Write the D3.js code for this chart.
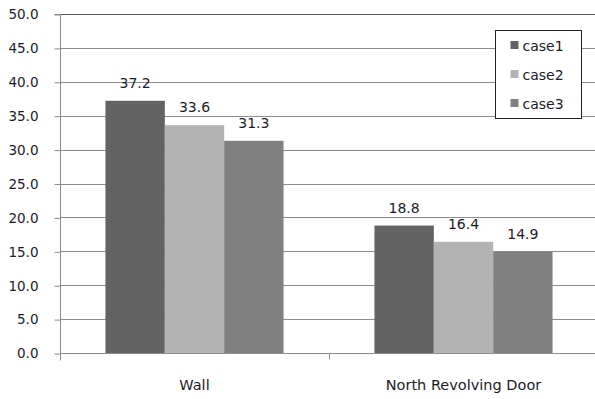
<!DOCTYPE html>
<html>
<head>
<meta charset="utf-8">
<script src="https://cdn.jsdelivr.net/npm/d3@7"></script>
<style>
  html, body { margin: 0; padding: 0; background: #fff; }
  svg { display: block; }
  text { font-family: "DejaVu Sans", Verdana, sans-serif; fill: #1c1c28; }
</style>
</head>
<body>
<script>
// Chart data
const categories = ["Wall", "North Revolving Door"];
const seriesNames = ["case1", "case2", "case3"];
const case1 = [37.2, 18.8];
const case2 = [33.6, 16.4];
const case3 = [31.3, 14.9];
const yTicks = [0, 5, 10, 15, 20, 25, 30, 35, 40, 45, 50];
const seriesColors = ["#636363", "#b3b3b3", "#808080"];

const seriesValues = [case1, case2, case3];

const W = 595, H = 399;
const margin = { left: 60, right: -3, top: 14, bottom: 46 };

const svg = d3.select("body").append("svg")
  .attr("width", W).attr("height", H);

const x0 = d3.scaleBand()
  .domain(categories)
  .range([margin.left, W - margin.right])
  .paddingInner(0.338)
  .paddingOuter(0.169);

const x1 = d3.scaleBand()
  .domain(seriesNames)
  .range([0, x0.bandwidth()]);

const y = d3.scaleLinear()
  .domain([0, 50])
  .range([H - margin.bottom, margin.top]);

// Horizontal gridlines
svg.append("g")
  .selectAll("line")
  .data(yTicks.filter(t => t > 0))
  .join("line")
  .attr("x1", margin.left)
  .attr("x2", W)
  .attr("y1", d => Math.round(y(d)) + 0.5)
  .attr("y2", d => Math.round(y(d)) + 0.5)
  .attr("stroke", d => d === 50 ? "#555" : "#8c8c8c")
  .attr("stroke-width", 1);

// Y axis
const yAxis = d3.axisLeft(y)
  .tickValues(yTicks)
  .tickFormat(d3.format(".1f"))
  .tickSize(6)
  .tickPadding(16);

const gy = svg.append("g")
  .attr("transform", `translate(${margin.left + 0.5},0.5)`)
  .call(yAxis);
gy.select(".domain").attr("stroke", "#8c8c8c").attr("d", `M-6,${y(50)}H0V${y(0) + 7}`);
gy.selectAll(".tick line").attr("stroke", "#8c8c8c");
gy.selectAll(".tick text")
  .attr("font-size", 13.5)
  .attr("fill", "#1c1c28")
  .style("font-family", "'DejaVu Sans', Verdana, sans-serif");

// Bars
const groups = svg.append("g")
  .selectAll("g")
  .data(categories)
  .join("g")
  .attr("transform", d => `translate(${x0(d)},0)`);

groups.selectAll("rect")
  .data((c, ci) => seriesNames.map((s, si) => ({ s, v: seriesValues[si][ci], si })))
  .join("rect")
  .attr("x", d => x1(d.s))
  .attr("width", x1.bandwidth())
  .attr("y", d => y(d.v))
  .attr("height", d => y(0) - y(d.v))
  .attr("fill", d => seriesColors[d.si]);

// Value labels
groups.selectAll("text.val")
  .data((c, ci) => seriesNames.map((s, si) => ({ s, v: seriesValues[si][ci] })))
  .join("text")
  .attr("class", "val")
  .attr("x", d => x1(d.s) + x1.bandwidth() / 2)
  .attr("y", d => y(d.v) - 13)
  .attr("text-anchor", "middle")
  .attr("font-size", 14)
  .text(d => d.v.toFixed(1));

// X axis
const xAxisY = Math.round(y(0)) + 0.5;
svg.append("line")
  .attr("x1", margin.left).attr("x2", W)
  .attr("y1", xAxisY).attr("y2", xAxisY)
  .attr("stroke", "#8c8c8c");

const midX = Math.round((x0(categories[0]) + x0.bandwidth() + x0(categories[1])) / 2) + 0.5;
svg.append("line")
  .attr("x1", midX).attr("x2", midX)
  .attr("y1", xAxisY).attr("y2", xAxisY + 6)
  .attr("stroke", "#8c8c8c");

svg.append("g")
  .selectAll("text")
  .data(categories)
  .join("text")
  .attr("x", d => x0(d) + x0.bandwidth() / 2)
  .attr("y", 390)
  .attr("text-anchor", "middle")
  .attr("font-size", 14.5)
  .text(d => d);

// Legend
const legend = svg.append("g").attr("transform", "translate(495.5,30.5)");
legend.append("rect")
  .attr("width", 86).attr("height", 88)
  .attr("fill", "#fff").attr("stroke", "#222");
const items = legend.selectAll("g")
  .data(seriesNames)
  .join("g")
  .attr("transform", (d, i) => `translate(15,${15 + i * 29})`);
items.append("rect")
  .attr("x", 0).attr("y", -4.5)
  .attr("width", 8).attr("height", 8)
  .attr("fill", (d, i) => seriesColors[i]);
items.append("text")
  .attr("x", 12).attr("y", 0)
  .attr("dy", "0.36em")
  .attr("font-size", 14)
  .text(d => d);
</script>
</body>
</html>
